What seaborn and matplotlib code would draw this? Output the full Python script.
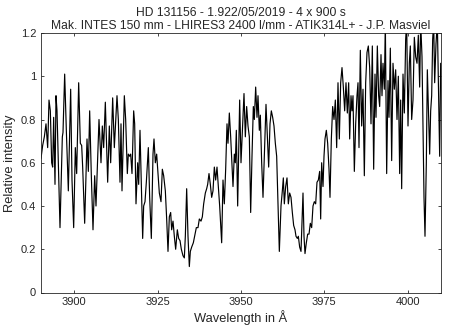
import numpy as np
import pandas as pd
import matplotlib
matplotlib.use("Agg")
import matplotlib.pyplot as plt
import seaborn as sns

# Segment 1
wl_1 = [3890.0, 3890.5, 3891.0, 3891.5, 3892.0, 3892.4, 3892.8, 3893.2, 3893.5, 3893.8,
        3894.2, 3894.5, 3894.8, 3895.7, 3896.4, 3896.6, 3897.1, 3897.6, 3898.2, 3898.9,
        3899.3, 3899.8, 3900.3, 3900.7, 3901.3, 3901.8, 3902.2, 3902.5, 3903.1, 3903.8,
        3904.2, 3904.6, 3905.1, 3905.6, 3906.1, 3906.5, 3907.4, 3908.0, 3908.4, 3908.8,
        3909.3, 3910.0, 3910.5, 3910.9, 3911.5, 3912.0, 3912.8, 3913.2, 3913.7]
int_1 = [0.62, 0.68, 0.72, 0.78, 0.67, 0.89, 0.84, 0.60, 0.58, 0.81,
         0.50, 0.91, 0.84, 0.30, 0.72, 0.74, 1.01, 0.75, 0.47, 0.94,
         0.52, 0.30, 0.67, 0.55, 0.97, 0.69, 0.68, 0.58, 0.32, 0.71,
         0.56, 0.84, 0.54, 0.29, 0.54, 0.40, 0.80, 0.60, 0.77, 0.67,
         0.88, 0.51, 0.77, 0.60, 0.90, 0.67, 0.91, 0.80, 0.51]

# Segment 2
wl_2 = [3914.0, 3914.3, 3915.0, 3915.4, 3915.9, 3916.2, 3916.6, 3916.9, 3917.3, 3917.8,
        3918.1, 3918.5, 3919.0, 3919.3, 3919.7, 3920.0, 3920.5, 3920.8, 3921.2, 3921.6,
        3922.2, 3922.6, 3923.1, 3923.6, 3923.9, 3924.3, 3924.7, 3925.0, 3925.5, 3926.0,
        3926.4, 3926.8, 3927.3, 3927.7, 3928.1, 3928.5, 3928.9, 3929.2, 3929.6, 3930.0,
        3930.4, 3930.9, 3931.3, 3931.7, 3932.1, 3932.6, 3933.0, 3933.3, 3933.7, 3934.1,
        3934.5, 3934.8, 3935.2, 3935.7, 3936.2, 3936.6, 3937.1, 3937.5]
int_2 = [0.78, 0.47, 0.91, 0.80, 0.55, 0.64, 0.63, 0.64, 0.55, 0.84,
         0.78, 0.41, 0.60, 0.50, 0.75, 0.57, 0.25, 0.40, 0.42, 0.51,
         0.67, 0.44, 0.25, 0.64, 0.71, 0.60, 0.64, 0.57, 0.46, 0.42,
         0.57, 0.54, 0.47, 0.34, 0.19, 0.35, 0.37, 0.29, 0.33, 0.26,
         0.20, 0.29, 0.25, 0.24, 0.20, 0.17, 0.16, 0.26, 0.48, 0.26,
         0.12, 0.19, 0.21, 0.23, 0.27, 0.30, 0.30, 0.34]

# Segment 3
wl_3 = [3938.0, 3938.4, 3938.8, 3939.3, 3939.7, 3940.0, 3940.4, 3940.8, 3941.2, 3941.6,
        3942.0, 3942.4, 3942.8, 3943.2, 3943.6, 3944.2, 3944.6, 3945.0, 3945.4, 3945.8,
        3946.1, 3946.5, 3946.9, 3947.2, 3947.6, 3948.0, 3948.3, 3948.6, 3949.0, 3949.6,
        3950.0, 3950.4, 3950.9, 3951.3, 3951.7, 3952.1, 3952.5, 3952.9, 3953.3, 3953.7,
        3954.0, 3954.4, 3954.8, 3955.1, 3955.5, 3955.8, 3956.2, 3956.6, 3957.0, 3957.5,
        3957.9, 3958.3, 3958.7, 3959.1, 3959.5, 3959.9, 3960.3, 3960.7, 3961.1, 3961.5]
int_3 = [0.33, 0.35, 0.41, 0.46, 0.48, 0.50, 0.55, 0.50, 0.44, 0.47,
         0.58, 0.52, 0.58, 0.49, 0.40, 0.23, 0.52, 0.41, 0.57, 0.78,
         0.69, 0.83, 0.72, 0.62, 0.49, 0.64, 0.60, 0.75, 0.40, 0.89,
         0.60, 0.74, 0.92, 0.72, 0.86, 0.77, 0.72, 0.37, 0.63, 0.86,
         0.80, 0.95, 0.81, 0.91, 0.75, 0.82, 0.60, 0.44, 0.63, 0.87,
         0.72, 0.58, 0.78, 0.84, 0.81, 0.77, 0.69, 0.63, 0.41, 0.19]

# Segment 4
wl_4 = [3962.0, 3962.4, 3962.7, 3963.0, 3963.4, 3963.8, 3964.2, 3964.6, 3965.0, 3965.4,
        3965.8, 3966.2, 3966.5, 3966.9, 3967.2, 3967.6, 3968.0, 3968.3, 3968.6, 3968.9,
        3969.2, 3969.6, 3970.0, 3970.4, 3970.8, 3971.2, 3971.6, 3972.0, 3972.4, 3972.8,
        3973.2, 3973.6, 3973.9, 3974.2, 3974.6, 3974.9, 3975.2, 3975.6, 3976.0, 3976.4,
        3976.7, 3977.1, 3977.5, 3977.9, 3978.3, 3978.7, 3979.1, 3979.5, 3979.9, 3980.3,
        3980.7, 3981.1, 3981.5, 3981.9, 3982.3, 3982.6, 3983.0, 3983.3, 3983.6, 3984.0,
        3984.4, 3984.8, 3985.1, 3985.4, 3985.8]
int_4 = [0.40, 0.47, 0.53, 0.41, 0.49, 0.53, 0.41, 0.46, 0.44, 0.37,
         0.31, 0.29, 0.26, 0.25, 0.26, 0.21, 0.19, 0.33, 0.46, 0.26,
         0.18, 0.23, 0.27, 0.27, 0.32, 0.30, 0.40, 0.42, 0.41, 0.51,
         0.52, 0.56, 0.34, 0.60, 0.49, 0.63, 0.71, 0.75, 0.69, 0.57,
         0.44, 0.71, 0.86, 0.80, 0.89, 0.67, 0.97, 0.71, 0.97, 1.04,
         0.95, 0.84, 0.97, 0.83, 0.97, 0.71, 0.91, 0.84, 0.91, 0.56,
         0.78, 0.91, 0.97, 0.67, 1.12]

# Segment 5
wl_5 = [3986.2, 3986.6, 3987.0, 3987.4, 3987.8, 3988.2, 3988.6, 3989.0, 3989.4, 3989.8,
        3990.2, 3990.5, 3990.9, 3991.3, 3991.6, 3992.0, 3992.3, 3992.6, 3993.0, 3993.3,
        3993.7, 3994.1, 3994.4, 3994.8, 3995.2, 3995.6, 3996.0, 3996.4, 3996.8, 3997.2,
        3997.6, 3997.9, 3998.2, 3998.6, 3999.0, 3999.4, 3999.7, 4000.1, 4000.5, 4000.8,
        4001.2, 4001.6, 4002.0, 4002.4, 4002.8, 4003.2, 4003.6, 4003.9, 4004.3, 4004.6,
        4004.9, 4005.2, 4005.6, 4005.9, 4006.3, 4006.6, 4006.9, 4007.2, 4007.5, 4007.8,
        4008.1, 4008.5, 4008.9, 4009.3, 4009.6, 4009.9, 4010.3]
int_5 = [0.77, 0.94, 0.54, 0.97, 1.11, 1.14, 1.04, 0.78, 1.14, 0.57,
         1.01, 0.81, 1.14, 0.91, 0.86, 1.10, 0.91, 1.06, 0.94, 1.25,
         0.55, 0.98, 0.81, 1.13, 0.61, 1.06, 0.94, 1.03, 0.80, 1.00,
         0.55, 0.89, 0.48, 1.01, 0.83, 1.17, 1.25, 0.77, 1.06, 1.14,
         0.80, 0.89, 1.18, 1.09, 1.06, 1.19, 0.95, 1.25, 1.09, 0.75,
         0.44, 0.26, 0.60, 1.03, 0.81, 0.64, 0.84, 0.91, 1.17, 1.25,
         0.97, 1.15, 1.25, 0.91, 0.63, 1.06, 0.91]

x_ticks = [3900, 3925, 3950, 3975, 4000]
y_ticks = [0, 0.2, 0.4, 0.6, 0.8, 1.0, 1.2]
y_ticklabels = ["0", "0.2", "0.4", "0.6", "0.8", "1", "1.2"]

title_text = ("HD 131156 - 1.922/05/2019 - 4 x 900 s\n"
              "Mak. INTES 150 mm - LHIRES3 2400 l/mm - ATIK314L+ - J.P. Masviel")

df = pd.DataFrame({
    "wl": wl_1 + wl_2 + wl_3 + wl_4 + wl_5,
    "inten": int_1 + int_2 + int_3 + int_4 + int_5,
})

sns.set_style("ticks")
plt.rcParams["font.family"] = ["Liberation Sans", "DejaVu Sans"]

fig = plt.figure(figsize=(4.5, 3.33), dpi=100)
ax = fig.add_axes([41 / 450, 1 - 292.5 / 333, 400 / 450, 259.5 / 333])

sns.lineplot(data=df, x="wl", y="inten", ax=ax, color="black",
             linewidth=0.85, estimator=None, sort=False)

ax.set_xlim(3890, 4010)
ax.set_ylim(0, 1.2)
ax.set_xticks(x_ticks)
ax.set_xticklabels([str(t) for t in x_ticks])
ax.set_yticks(y_ticks)
ax.set_yticklabels(y_ticklabels)

edge = "#262626"
for s in ax.spines.values():
    s.set_visible(True)
    s.set_color(edge)
    s.set_linewidth(0.6)
ax.tick_params(direction="in", length=2.5, width=0.6, color=edge,
               labelsize=8, labelcolor=edge, top=True, right=True, pad=3.5)

ax.set_xlabel("Wavelength in Å", fontsize=9.3, color=edge, labelpad=2)
ax.set_ylabel("Relative intensity", fontsize=9.3, color=edge, labelpad=3)
ax.set_title(title_text, fontsize=8.7, color=edge, pad=3, linespacing=1.05)

fig.savefig("out.png", dpi=100)
